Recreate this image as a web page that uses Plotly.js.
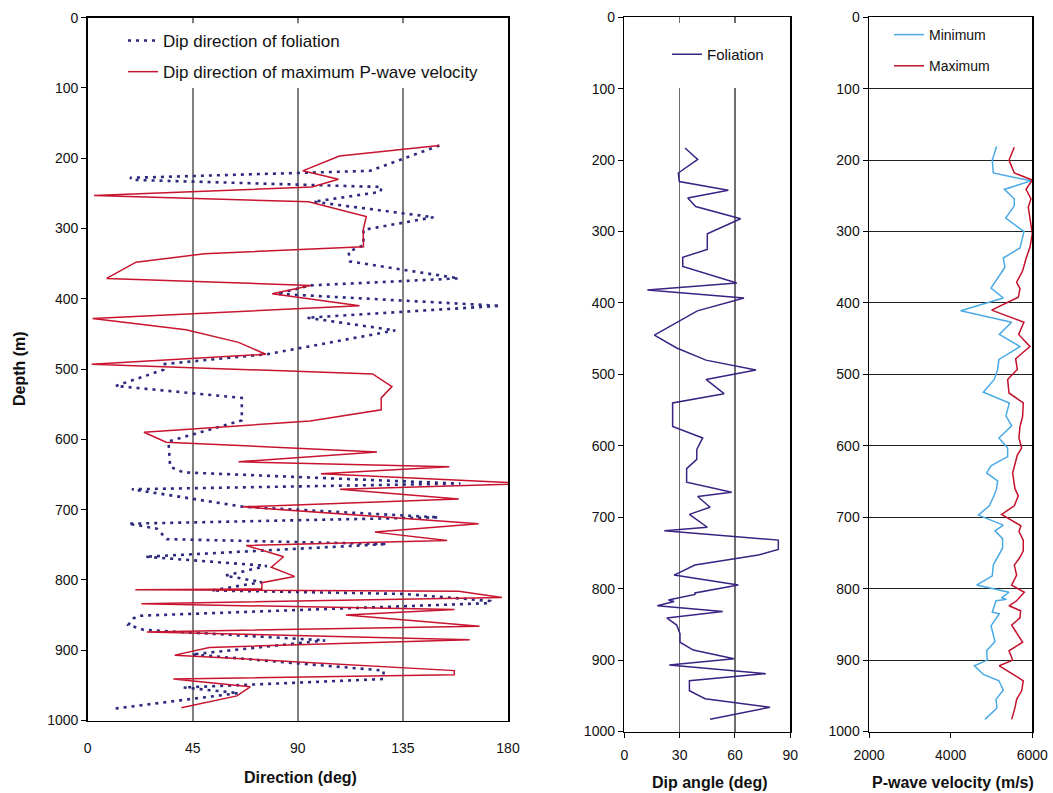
<!DOCTYPE html>
<html>
<head>
<meta charset="utf-8">
<script src="https://cdn.plot.ly/plotly-3.0.1.min.js"></script>
<style>
  html, body { margin: 0; padding: 0; background: #fff; }
  #chart { width: 1053px; height: 793px; }
</style>
</head>
<body>
<div id="chart"></div>
<script>
// Panel 1: dip directions (deg) vs depth (m)
const maxVpDepth = [182, 197, 218, 230, 241, 253, 262, 283, 302, 326, 336, 348, 371, 381, 393, 410, 428, 444, 462, 479,
  493, 507, 525, 541, 558, 574, 590, 604, 618, 632, 639, 649, 663, 671, 685, 696, 720, 732, 744, 751,
  767, 782, 795, 804, 813, 814, 816, 825, 834, 842, 850, 866, 874, 885, 896, 907, 929, 935, 941, 952, 965, 982];
const maxVpDir = [150.6, 107.8, 92.1, 107.4, 96, 2.7, 94.6, 119.3, 118, 118.1, 50, 20.7, 8.1, 95.6, 79, 116.4, 2.1, 42.1, 64.6, 76.3,
  1.7, 122, 130.3, 125.7, 125.7, 95.3, 24.1, 33.6, 123.9, 64.6, 154.9, 99.9, 189.9, 108.1, 158.9, 66.3, 167.4, 123, 153.9, 67.9,
  83.9, 78.6, 88.6, 74.6, 74.6, 20.4, 158.9, 177.4, 23, 157.1, 110.6, 167.8, 25.3, 163.6, 52.1, 37.3, 157, 157, 36.7, 69.6, 63.9, 40.1];

const foliDirDepth = [182, 218, 228, 231, 241, 248, 262, 284, 302, 324, 333, 347, 371, 381, 393, 410, 427, 445, 479, 493,
  501, 524, 541, 573, 603, 639, 647, 663, 671, 696, 711, 720, 727, 742, 749, 767, 780, 794, 803, 815,
  820, 830, 833, 851, 855, 864, 871, 886, 906, 929, 941, 953, 961, 983];
const foliDir = [150.6, 121, 18.1, 20.3, 126, 125.3, 96.7, 148.1, 118.1, 118.1, 111.7, 112.4, 158.9, 95.3, 81, 176.7, 93.9, 131.7, 76.7, 32.4,
  32.4, 12, 66, 66, 34.6, 35.3, 41, 159.6, 18.9, 66.7, 150.3, 17.4, 29.6, 33.9, 128.2, 24.6, 76.7, 58.9, 74.6, 53.1,
  136, 172.4, 172.4, 21.7, 19.5, 17.4, 23.8, 101.7, 44.6, 126.7, 126.7, 41, 64.6, 11.7];

// Panel 2: dip angle of foliation (deg)
const dipDepth = [183, 199, 218, 230, 242, 253, 265, 282, 303, 325, 336, 349, 372, 382, 393, 411, 445, 463, 480, 494,
  507, 527, 540, 573, 589, 605, 619, 632, 651, 665, 671, 686, 696, 714, 719, 732, 745, 753, 767, 781,
  795, 806, 808, 816, 818, 824, 832, 841, 851, 863, 875, 886, 898, 907, 919, 929, 943, 954, 966, 983];
const dipAngle = [32.9, 39.8, 29.3, 29.8, 56.4, 34.4, 38.7, 63.1, 45, 45, 31.7, 31.7, 61, 12.5, 64.9, 39.6, 16.3, 28.4, 44.3, 71.4,
  44.3, 54.1, 26.2, 26.2, 42.5, 39.3, 39.3, 33.8, 33.8, 58.2, 39.8, 46.5, 35.3, 45, 21.7, 83.5, 83.5, 72.7, 38.3, 27,
  61.8, 38.3, 38.3, 23.9, 27, 17.9, 53.4, 23, 28.4, 30.2, 30.2, 37.4, 59.5, 24.4, 76.7, 35.3, 35.3, 43.8, 79, 46.5];

// Panel 3: P-wave velocity (m/s)
const vMinDepth = [181, 200, 218, 229, 241, 254, 264, 281, 300, 323, 337, 350, 379, 393, 411, 427, 444, 461, 479, 493,
  507, 525, 540, 558, 572, 589, 603, 615, 628, 638, 649, 660, 670, 684, 697, 711, 719, 730, 743, 767,
  782, 795, 805, 813, 815, 817, 833, 835, 852, 874, 887, 900, 908, 920, 929, 942, 955, 967, 983];
const vMin = [5126, 5020, 5045, 5967, 5314, 5559, 5559, 5347, 5796, 5698, 5290, 5330, 4988, 5290, 4245, 5494, 5192, 5698, 5183, 5151,
  5069, 4800, 5437, 5355, 5494, 5183, 5396, 5396, 4988, 4882, 5151, 5126, 5061, 4947, 4678, 5290, 5086, 5273, 5273, 5045,
  5020, 4637, 5429, 5249, 5371, 5110, 5020, 5192, 4988, 5086, 4882, 4898, 4580, 4800, 5183, 5290, 5110, 5135, 4841];

const vMaxDepth = [182, 200, 218, 228, 241, 254, 266, 287, 303, 322, 338, 355, 371, 380, 392, 410, 427, 444, 461, 478,
  493, 507, 526, 540, 559, 573, 589, 603, 613, 638, 660, 670, 684, 696, 712, 720, 732, 747, 756, 767,
  781, 795, 805, 817, 824, 831, 841, 851, 875, 887, 900, 908, 929, 943, 955, 967, 983];
const vMax = [5559, 5429, 5559, 6000, 5845, 5967, 5902, 5967, 6000, 5943, 5845, 5763, 5616, 5698, 5657, 5004, 5796, 5665, 5943, 5592,
  5633, 5396, 5429, 5779, 5763, 5698, 5673, 5739, 5633, 5518, 5575, 5657, 5559, 5249, 5722, 5673, 5779, 5779, 5698, 5559,
  5616, 5494, 5804, 5616, 5429, 5714, 5698, 5494, 5763, 5429, 5518, 5192, 5779, 5739, 5616, 5575, 5494];

const W = 1053, H = 793;
const px = v => v / W;
const py = v => 1 - v / H;
const FONT = 'Liberation Sans, Arial, Helvetica, sans-serif';

const data = [
  {
    x: foliDir, y: foliDirDepth, xaxis: 'x', yaxis: 'y',
    type: 'scatter', mode: 'lines', name: 'Dip direction of foliation',
    line: { color: '#2c2a7c', width: 2.6, dash: '3px,5px' },
    legend: 'legend', legendgroup: 'a'
  },
  {
    x: maxVpDir, y: maxVpDepth, xaxis: 'x', yaxis: 'y',
    type: 'scatter', mode: 'lines', name: 'Dip direction of maximum P-wave velocity',
    line: { color: '#c8142f', width: 1.5 },
    legend: 'legend', legendgroup: 'b'
  },
  {
    x: dipAngle, y: dipDepth, xaxis: 'x2', yaxis: 'y2',
    type: 'scatter', mode: 'lines', name: 'Foliation',
    line: { color: '#3a2383', width: 1.5 },
    legend: 'legend2'
  },
  {
    x: vMin, y: vMinDepth, xaxis: 'x3', yaxis: 'y3',
    type: 'scatter', mode: 'lines', name: 'Minimum',
    line: { color: '#4aaae6', width: 1.5 },
    legend: 'legend3', legendgroup: 'c'
  },
  {
    x: vMax, y: vMaxDepth, xaxis: 'x3', yaxis: 'y3',
    type: 'scatter', mode: 'lines', name: 'Maximum',
    line: { color: '#c4102c', width: 1.5 },
    legend: 'legend3', legendgroup: 'd'
  }
];

const baseX = {
  showline: true, linecolor: '#000', linewidth: 1.5, mirror: true,
  zeroline: false, tickfont: { size: 14, color: '#111' }
};
const baseY = {
  range: [1000, 0], dtick: 100, ticks: 'outside', ticklen: 5, tickcolor: '#000',
  showline: true, linecolor: '#000', linewidth: 1.5, mirror: true,
  zeroline: false, showgrid: false, tickfont: { size: 14, color: '#111' }
};
const titleFont = { family: FONT, size: 16, color: '#111', weight: 'bold' };
const axisTitle = (text, x, y, angle) => ({
  text: text, xref: 'paper', yref: 'paper', x: px(x), y: py(y),
  xanchor: 'center', yanchor: 'middle', textangle: angle || 0,
  showarrow: false, font: titleFont
});

const layout = {
  width: W, height: H,
  margin: { l: 0, r: 0, t: 0, b: 0 },
  paper_bgcolor: '#fff', plot_bgcolor: '#fff',
  font: { family: FONT, color: '#111' },
  xaxis: Object.assign({}, baseX, {
    domain: [px(87.7), px(508)], anchor: 'y', range: [0, 180],
    tickvals: [0, 45, 90, 135, 180], showgrid: true, gridcolor: '#808080', gridwidth: 2,
    ticks: 'outside', ticklen: 14, tickcolor: 'rgba(0,0,0,0)'
  }),
  yaxis: Object.assign({}, baseY, { domain: [py(720.5), py(17.6)], anchor: 'x' }),
  xaxis2: Object.assign({}, baseX, {
    domain: [px(624.3), px(790.3)], anchor: 'y2', range: [0, 90],
    tickvals: [0, 30, 60, 90], showgrid: true, gridcolor: '#6e6e6e', gridwidth: 1.3,
    ticks: 'outside', ticklen: 5, tickcolor: '#000', ticklabelstandoff: 5
  }),
  yaxis2: Object.assign({}, baseY, { domain: [py(731.5), py(17.3)], anchor: 'x2' }),
  xaxis3: Object.assign({}, baseX, {
    domain: [px(869), px(1032.3)], anchor: 'y3', range: [2000, 6000],
    tickvals: [2000, 4000, 6000], showgrid: false,
    ticks: 'outside', ticklen: 5, tickcolor: '#000', ticklabelstandoff: 5
  }),
  yaxis3: Object.assign({}, baseY, {
    domain: [py(731.5), py(17.3)], anchor: 'x3',
    showgrid: true, gridcolor: '#222', gridwidth: 1
  }),
  legend: {
    x: px(123), y: py(23), xanchor: 'left', yanchor: 'top',
    bgcolor: 'rgba(0,0,0,0)', font: { size: 17, color: '#111' },
    tracegroupgap: 6, traceorder: 'grouped'
  },
  legend2: {
    x: px(667), y: py(38), xanchor: 'left', yanchor: 'top',
    bgcolor: 'rgba(0,0,0,0)', font: { size: 15, color: '#111' }
  },
  legend3: {
    x: px(889), y: py(19), xanchor: 'left', yanchor: 'top',
    bgcolor: 'rgba(0,0,0,0)', font: { size: 14, color: '#111' },
    tracegroupgap: 10, traceorder: 'grouped'
  },
  shapes: [
    // white boxes behind the legends that hide the gridlines
    { type: 'rect', xref: 'x', yref: 'y', x0: 2, x1: 178, y0: 8, y1: 100,
      fillcolor: '#fff', line: { width: 0 }, layer: 'between' },
    { type: 'rect', xref: 'x2', yref: 'y2', x0: 15, x1: 88, y0: 8, y1: 99,
      fillcolor: '#fff', line: { width: 0 }, layer: 'between' }
  ],
  annotations: [
    axisTitle('Depth (m)', 19, 369, -90),
    axisTitle('Direction (deg)', 300, 777),
    axisTitle('Dip angle (deg)', 710, 782),
    axisTitle('P-wave velocity (m/s)', 953, 782)
  ]
};

Plotly.newPlot('chart', data, layout, { staticPlot: true, displayModeBar: false });
</script>
</body>
</html>
